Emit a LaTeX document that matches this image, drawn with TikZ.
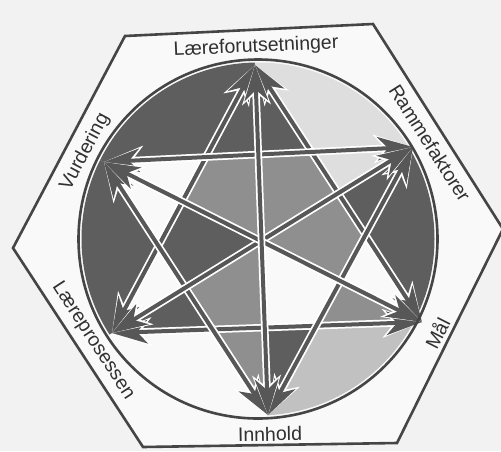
\documentclass[tikz,border=0pt]{standalone}
\usepackage{fontspec}
\setmainfont{Liberation Sans}
\usetikzlibrary{arrows.meta,calc}

\definecolor{paper}{gray}{0.95}
\definecolor{sheet}{gray}{0.975}
\definecolor{ink}{gray}{0.27}
\definecolor{darkfill}{gray}{0.37}
\definecolor{midfill}{gray}{0.56}
\definecolor{lightfill}{gray}{0.87}
\definecolor{arrowgray}{gray}{0.34}

\begin{document}
\begin{tikzpicture}[x=1pt,y=-1pt,
    lbl/.style={font=\fontsize{19.5}{22}\selectfont, text=ink!70!black, inner sep=0pt},
    rim/.style={draw=ink, line width=2.6pt},
    edgeback/.style={draw=white, line width=7.5pt,
      {Stealth[length=40pt,width=29pt,inset=12pt,line width=0pt]}-{Stealth[length=40pt,width=29pt,inset=12pt,line width=0pt]}},
    edgefront/.style={draw=arrowgray, line width=4pt,
      {Stealth[length=36pt,width=24pt,inset=11pt,line width=0pt]}-{Stealth[length=36pt,width=24pt,inset=11pt,line width=0pt]}}]
  \useasboundingbox (0,0) rectangle (501,451);
  \fill[paper] (0,0) rectangle (501,451);
  % hexagon and circle
  \filldraw[rim, fill=sheet] (125,36) -- (373,24) -- (503,229) -- (397,443) -- (143,447) -- (13,248) -- cycle;
  \coordinate (O) at (258,239);
  % the six points
  \coordinate (lf) at (255,65);
  \coordinate (rf) at (413,147);
  \coordinate (ml) at (422,322);
  \coordinate (ih) at (268,415);
  \coordinate (lp) at (112,333);
  \coordinate (vd) at (104,162);
  % crossings of the star
  \coordinate (C) at (intersection of lf--ih and vd--ml);
  \coordinate (p60) at (intersection of lf--ml and vd--rf);
  \coordinate (p120) at (intersection of lf--lp and vd--rf);
  \coordinate (p180) at (intersection of lf--lp and ih--vd);
  \coordinate (p240) at (intersection of lp--ml and ih--vd);
  \coordinate (p300) at (intersection of lp--ml and rf--ih);
  \coordinate (p0) at (intersection of lf--ml and rf--ih);
  \coordinate (q90) at (intersection of lf--ih and vd--rf);
  \coordinate (q30) at (intersection of rf--lp and lf--ml);
  \coordinate (q330) at (intersection of vd--ml and rf--ih);
  \coordinate (q270) at (intersection of lf--ih and lp--ml);
  \coordinate (q210) at (intersection of rf--lp and ih--vd);
  \coordinate (q150) at (intersection of vd--ml and lf--lp);
  \fill[sheet] (O) circle (177);
  \begin{scope}
    \clip (O) circle (176.5);
    \fill[darkfill] (C) -- ($(C)!1.7!(lf)$) -- ($(C)!1.7!(vd)$) -- cycle;
    \fill[lightfill] (C) -- ($(C)!1.7!(lf)$) -- ($(C)!1.7!(rf)$) -- cycle;
    \fill[darkfill] (C) -- ($(C)!1.7!(rf)$) -- ($(C)!1.7!(ml)$) -- cycle;
    \fill[midfill!55!white] (C) -- ($(C)!1.7!(ml)$) -- ($(C)!1.7!(ih)$) -- cycle;
    \fill[darkfill] (C) -- ($(C)!1.7!(lp)$) -- ($(C)!1.7!(vd)$) -- cycle;
  \end{scope}
  % inner hexagon
  \fill[midfill] (C) -- (q90) -- (p60) -- (q30) -- cycle;
  \fill[midfill] (C) -- (q90) -- (p120) -- (q150) -- cycle;
  \fill[darkfill] (C) -- (q150) -- (p180) -- (q210) -- cycle;
  \fill[midfill] (C) -- (q210) -- (p240) -- (q270) -- cycle;
  \fill[sheet] (C) -- (q270) -- (p300) -- (q330) -- cycle;
  \fill[midfill] (C) -- (q330) -- (p0) -- (q30) -- cycle;
  % star points
  \fill[darkfill] (lf) -- (p120) -- (q90) -- (p60) -- cycle;
  \fill[lightfill] (rf) -- (p60) -- (q30) -- cycle;
  \fill[darkfill] (rf) -- (q30) -- (p0) -- cycle;
  \fill[sheet] (ml) -- (p0) -- (q330) -- cycle;
  \fill[midfill] (ml) -- (q330) -- (p300) -- cycle;
  \fill[darkfill] (ih) -- (p300) -- (q270) -- cycle;
  \fill[midfill] (ih) -- (q270) -- (p240) -- cycle;
  \fill[darkfill] (lp) -- (p240) -- (q210) -- cycle;
  \fill[sheet] (lp) -- (q210) -- (p180) -- cycle;
  \fill[sheet] (vd) -- (p180) -- (p120) -- cycle;
  % arrows
  \foreach \a/\b in {lf/ml, ml/lp, lp/lf, vd/rf, rf/ih, ih/vd, rf/lp, vd/ml, lf/ih}{
    \draw[edgeback] (\a) -- (\b);
    \draw[edgefront] (\a) -- (\b);
  }
  \draw[rim] (O) circle (179.5);
  % labels
  \node[lbl, rotate=2.5] (lf-lbl) at (256,47) {Læreforutsetninger};
  \node[lbl, rotate=-57.5] (rf-lbl) at (430,143) {Rammefaktorer};
  \node[lbl, rotate=63] (ml-lbl) at (437,333) {Mål};
  \node[lbl, rotate=1] (ih-lbl) at (270,434) {Innhold};
  \node[lbl, rotate=-57] (lp-lbl) at (93,341) {Læreprosessen};
  \node[lbl, rotate=62] (vd-lbl) at (85,152) {Vurdering};
\end{tikzpicture}
\end{document}
